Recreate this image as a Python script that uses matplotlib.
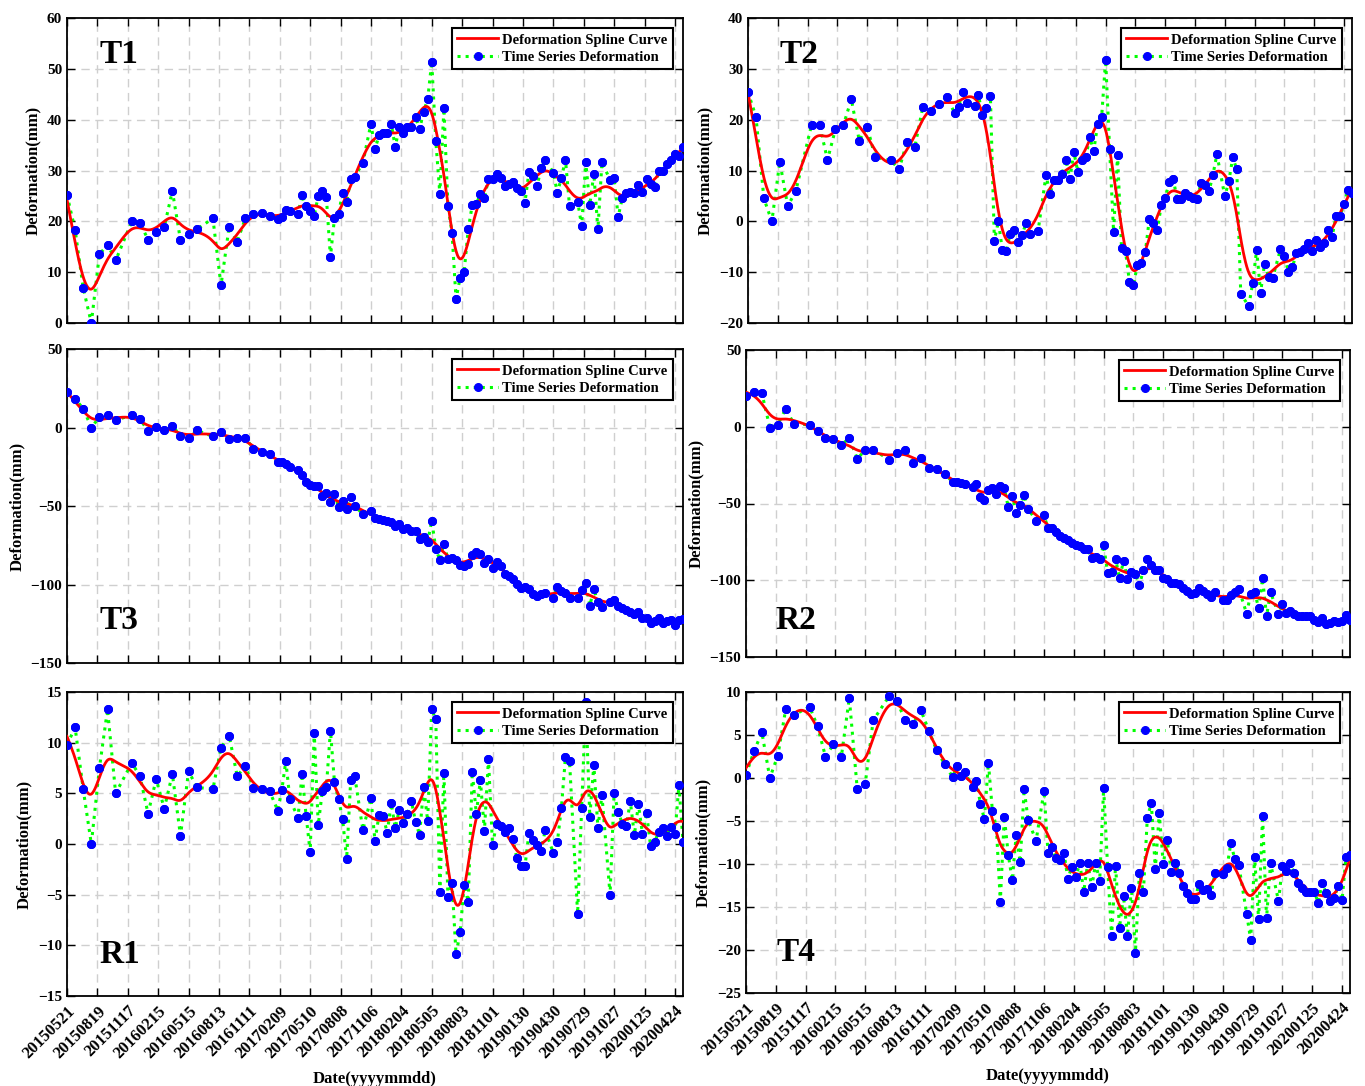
import matplotlib
matplotlib.use("Agg")
import matplotlib.pyplot as plt
import numpy as np
import pandas as pd

plt.rcParams["font.family"] = ["Liberation Serif", "DejaVu Serif"]
plt.rcParams["font.weight"] = "bold"
plt.rcParams["axes.labelweight"] = "bold"

# acquisition dates, as day offsets from the first scene
start_date = "2015-05-21"
day_offsets = [0, 24, 48, 72, 96, 120, 144, 192, 216, 240, 264, 288, 312, 336, 360, 384,
               432, 456, 480, 504, 528, 552, 576, 600, 624, 636, 648, 660,
               684, 696, 708, 720, 732, 744, 756, 768, 780, 792, 804, 816, 828, 840, 852, 876,
               900, 912, 924, 936, 948, 960, 972, 984, 996, 1008, 1020, 1032, 1044, 1056,
               1068, 1080, 1092, 1104, 1116, 1128, 1140, 1152, 1164, 1176, 1188, 1200, 1212,
               1224, 1236, 1248, 1260, 1272, 1284, 1296, 1308, 1320, 1332, 1344, 1356, 1368,
               1380, 1392, 1404, 1416,
               1440, 1452, 1464, 1476, 1488,
               1512, 1524, 1536, 1548, 1560, 1572, 1584,
               1608, 1620, 1632, 1644, 1656, 1668, 1680, 1692, 1704, 1716, 1728, 1740, 1752,
               1764, 1776, 1788, 1800, 1812, 1824]

tick_labels = ["20150521", "20150819", "20151117", "20160215", "20160515", "20160813",
               "20161111", "20170209", "20170510", "20170808", "20171106", "20180204",
               "20180505", "20180803", "20181101", "20190130", "20190430", "20190729",
               "20191027", "20200125", "20200424"]

t1 = [25.2, 18.3, 6.9, 0.0, 13.5, 15.4, 12.3, 20.0, 19.7, 16.4, 17.9, 18.9, 26.0, 16.3, 17.5, 18.4,
      20.6, 7.4, 18.9, 16.0, 20.6, 21.5, 21.7, 21.0, 20.4, 20.9, 22.2, 22.1,
      21.5, 25.2, 23.0, 22.0, 21.1, 25.0, 26.0, 24.7, 13.0, 20.6, 21.5, 25.6, 23.8, 28.3, 28.8, 31.5,
      39.2, 34.2, 36.9, 37.3, 37.4, 39.2, 34.6, 38.6, 37.3, 38.6, 38.5, 40.5, 38.1, 41.6,
      44.0, 51.4, 35.9, 25.4, 42.2, 23.1, 17.8, 4.7, 8.9, 10.1, 18.4, 23.2, 23.4,
      25.4, 24.5, 28.4, 28.4, 29.3, 28.5, 27.0, 27.3, 27.8, 26.5, 25.9, 23.7, 29.8,
      29.0, 27.0, 30.5, 32.1,
      29.6, 25.6, 28.6, 32.1, 23.0,
      23.9, 19.1, 31.7, 23.2, 29.4, 18.4, 31.6,
      28.2, 28.5, 20.9, 24.5, 25.5, 25.8, 25.5, 27.1, 25.7, 28.3, 27.4, 26.8, 30.0,
      29.9, 31.2, 32.1, 33.2, 32.9, 34.7]

t2 = [25.4, 20.6, 4.5, 0.0, 11.7, 3.0, 5.9, 19.0, 19.0, 12.1, 18.1, 18.9, 24.0, 15.9, 18.6, 12.6,
      12.0, 10.2, 15.6, 14.7, 22.5, 21.7, 23.1, 24.5, 21.3, 22.5, 25.5, 23.3,
      22.7, 24.8, 20.9, 22.3, 24.6, -3.8, 0.0, -5.6, -5.8, -2.4, -1.7, -4.1, -2.6, -0.3, -2.4, -1.9,
      9.1, 5.4, 8.1, 8.1, 9.3, 12.1, 8.3, 13.6, 9.8, 12.1, 12.6, 16.5, 13.9, 19.1,
      20.6, 31.8, 14.2, -2.0, 13.0, -5.2, -5.9, -11.9, -12.5, -8.6, -8.2, -6.0, 0.5,
      -0.4, -1.8, 3.2, 4.6, 7.7, 8.4, 4.3, 4.3, 5.6, 5.0, 4.5, 4.3, 7.5,
      7.1, 5.9, 9.1, 13.2,
      4.9, 7.9, 12.6, 10.2, -14.2,
      -16.7, -12.2, -5.6, -14.0, -8.3, -10.9, -11.2,
      -5.5, -6.9, -9.9, -9.0, -6.3, -6.1, -5.5, -4.2, -5.9, -3.6, -5.1, -4.2, -1.8,
      -3.0, 1.1, 1.1, 3.4, 6.2, 5.6]

t3 = [22.3, 18.1, 12.1, 0.0, 6.6, 7.9, 4.7, 7.9, 5.3, -2.1, 0.6, -1.3, 1.1, -5.3, -7.0, -1.7,
      -5.7, -2.8, -7.4, -6.4, -6.4, -13.6, -15.5, -16.6, -21.9, -21.9, -23.2, -25.3,
      -26.8, -30.2, -34.5, -36.8, -37.0, -37.2, -43.8, -41.5, -47.4, -42.6, -50.6, -47.0,
      -51.7, -44.0, -50.0, -55.1,
      -53.4, -57.9, -58.3, -58.7, -59.8, -60.4, -63.0, -61.7, -64.7, -64.3, -66.0, -65.7,
      -71.1, -69.6, -72.8, -59.4, -77.2, -84.5, -74.0, -83.8, -83.4, -84.5, -87.4, -88.1,
      -87.2, -81.3, -79.1, -80.6, -86.2, -83.8, -89.6, -85.5, -88.3, -93.0, -94.7, -96.6,
      -99.8, -102.3, -101.7, -102.6, -106.2, -107.2, -106.2, -105.7,
      -108.3, -101.7, -104.0, -105.7, -108.3,
      -108.3, -103.8, -99.1, -113.4, -103.0, -111.3, -114.5,
      -110.9, -109.6, -113.4, -114.9, -116.4, -117.4, -118.9, -117.4, -121.3, -121.3,
      -124.5, -123.4, -121.1, -124.5, -123.4, -122.3, -126.0, -122.8, -121.9]

r2 = [19.8, 22.9, 21.8, -0.5, 1.4, 11.8, 2.1, 1.2, -2.5, -7.3, -7.7, -11.8, -7.5, -20.7, -15.3, -14.9,
      -21.4, -17.2, -14.9, -23.3, -20.5, -26.8, -27.4, -31.1, -35.7, -35.7, -36.8, -37.6,
      -39.2, -37.2, -45.9, -47.6, -41.5, -40.2, -43.7, -38.7, -39.8, -52.4, -45.2, -55.9,
      -50.7, -44.6, -53.5, -61.1,
      -57.8, -66.1, -66.1, -68.7, -71.3, -72.3, -73.6, -75.8, -77.3, -78.0, -79.5, -79.9,
      -85.4, -84.9, -86.0, -77.1, -95.1, -94.3, -86.0, -98.8, -87.5, -99.0, -94.9, -95.8,
      -103.4, -93.2, -86.4, -90.3, -93.6, -93.4, -98.8, -99.0, -101.6, -101.6, -102.3, -105.1,
      -107.3, -108.8, -108.4, -105.3, -107.1, -108.8, -111.0, -107.7,
      -112.7, -112.7, -109.9, -107.7, -105.5,
      -121.8, -108.8, -107.7, -118.1, -98.8, -123.5, -107.7,
      -122.2, -115.3, -121.1, -120.3, -122.0, -123.5, -123.5, -123.5, -123.5, -126.1,
      -127.2, -124.4, -128.7, -127.7, -126.4, -127.2, -126.6, -122.5, -125.7]

r1 = [9.8, 11.5, 5.4, 0.0, 7.5, 13.3, 5.0, 8.0, 6.7, 3.0, 6.4, 3.5, 6.9, 0.8, 7.2, 5.6,
      5.4, 9.5, 10.7, 6.7, 7.7, 5.5, 5.4, 5.2, 3.3, 5.3, 8.2, 4.4,
      2.6, 6.9, 2.8, -0.8, 11.0, 1.9, 5.2, 5.6, 11.2, 6.1, 4.4, 2.5, -1.5, 6.3, 6.7, 1.4,
      4.5, 0.3, 2.9, 2.8, 1.1, 4.0, 1.6, 3.4, 2.1, 3.0, 4.2, 2.2, 0.9, 5.6,
      2.3, 13.3, 12.3, -4.7, 7.0, -5.2, -3.8, -10.9, -8.7, -4.0, -5.7, 7.1, 3.0,
      6.3, 1.3, 8.4, -0.1, 2.0, 1.8, 1.2, 1.6, 0.5, -1.4, -2.2, -2.2, 1.1,
      0.4, -0.1, -0.7, 1.4,
      -0.9, 0.2, 3.6, 8.6, 8.2,
      -6.9, 3.6, 14.0, 2.7, 7.8, 1.6, 4.8,
      -5.0, 5.0, 3.2, 2.0, 1.8, 4.2, 0.9, 3.9, 1.0, 3.1, -0.2, 0.2, 1.2,
      1.6, 0.8, 1.7, 1.0, 5.8, 0.2]

t4 = [0.4, 3.1, 5.3, 0.0, 2.6, 8.0, 7.3, 8.3, 6.0, 2.5, 3.9, 2.5, 9.3, -1.3, -0.7, 6.7,
      9.5, 8.9, 6.8, 6.3, 7.9, 5.5, 3.2, 1.6, 0.1, 1.4, 0.2, 0.7,
      -1.0, -0.4, -3.0, -4.8, 1.8, -3.8, -5.7, -14.4, -4.5, -8.9, -11.9, -6.6, -9.8, -1.3, -4.9, -7.3,
      -1.5, -8.7, -8.0, -9.3, -9.5, -8.7, -11.7, -10.3, -11.5, -9.9, -13.2, -9.9, -12.7, -9.9,
      -12.0, -1.2, -10.3, -18.4, -10.2, -17.4, -13.7, -18.4, -12.8, -20.3, -11.0, -13.3, -4.6,
      -2.9, -10.6, -4.1, -10.0, -7.2, -10.9, -9.9, -11.0, -12.6, -13.4, -14.1, -14.1, -12.3,
      -13.0, -12.9, -13.6, -11.1,
      -11.2, -10.5, -7.6, -9.4, -10.1,
      -15.8, -18.8, -9.2, -16.4, -4.4, -16.3, -9.9,
      -14.3, -10.2, -10.8, -9.9, -11.1, -12.2, -12.8, -13.2, -13.2, -13.2, -14.5, -12.2, -13.4,
      -14.3, -13.9, -12.6, -14.2, -9.2, -8.9]

W, H = 1365, 1086
STEP = 2  # grid step (days) for the smoothing spline


def spline_curve(days, values, lam=1500.0):
    # penalised (Whittaker) smoothing, same idea as a cubic smoothing spline
    days = np.asarray(days)
    grid = np.arange(days[0], days[-1] + 1, STEP)
    n = len(grid)
    w = np.zeros(n)
    y = np.zeros(n)
    idx = (days - days[0]) // STEP
    w[idx] = 1.0
    y[idx] = values
    D = np.diff(np.eye(n), 2, axis=0)
    A = np.diag(w) + lam * D.T @ D
    return grid, np.linalg.solve(A, w * y)


def px_axes(fig, x0, y0, x1, y1):
    return fig.add_axes([x0 / W, 1 - y1 / H, (x1 - x0) / W, (y1 - y0) / H])


start = pd.Timestamp(start_date)
dates = start + pd.to_timedelta(day_offsets, unit="D")
tick_dates = pd.to_datetime(tick_labels, format="%Y%m%d")

panels = [
    ("T1", t1, (0, 60), np.arange(0, 61, 10), (67, 18, 683, 323), (0.052, 0.88), False),
    ("T2", t2, (-20, 40), np.arange(-20, 41, 10), (748, 18, 1352, 323), (0.052, 0.88), False),
    ("T3", t3, (-150, 50), np.arange(-150, 51, 50), (67, 349, 683, 663), (0.052, 0.135), False),
    ("R2", r2, (-150, 50), np.arange(-150, 51, 50), (746, 350, 1350, 657), (0.048, 0.12), False),
    ("R1", r1, (-15, 15), np.arange(-15, 16, 5), (67, 692, 683, 996), (0.052, 0.135), True),
    ("T4", t4, (-25, 10), np.arange(-25, 11, 5), (746, 692, 1350, 993), (0.05, 0.135), True),
]

fig = plt.figure(figsize=(W / 100, H / 100), dpi=100)

for name, vals, ylim, yticks, rect, lab, bottom in panels:
    ax = px_axes(fig, *rect)
    grid, smooth = spline_curve(day_offsets, vals)
    gdates = start + pd.to_timedelta(grid, unit="D")

    ts, = ax.plot(dates, vals, ":", color="#00ff00", lw=2.2, marker="o", ms=5.5,
                  mfc="#0000ff", mec="#0000ff", zorder=2, label="Time Series Deformation")
    sp, = ax.plot(gdates, smooth, "-", color="#ff0000", lw=2.0, zorder=3,
                  label="Deformation Spline Curve")
    ax.plot(dates, vals, "o", ms=5.5, mfc="#0000ff", mec="#0000ff", zorder=4)

    ax.set_xlim(dates[0], dates[-1])
    ax.set_ylim(*ylim)
    ax.set_yticks(yticks)
    ax.set_xticks(tick_dates)
    if bottom:
        ax.set_xticklabels(tick_labels, rotation=45, ha="right", rotation_mode="anchor",
                           fontsize=12)
        ax.set_xlabel("Date(yyyymmdd)", fontsize=12, labelpad=7)
    else:
        ax.set_xticklabels([])
    ax.set_ylabel("Deformation(mm)", fontsize=12)

    ax.tick_params(direction="in", length=6, width=1, top=True, right=True)
    ax.tick_params(axis="y", labelsize=11)
    ax.tick_params(axis="x", pad=5)
    ax.grid(True, ls=(0, (6, 4)), color="#cfcfcf", lw=1)
    ax.set_axisbelow(True)
    for s in ax.spines.values():
        s.set_linewidth(1.3)

    ax.text(lab[0], lab[1], name, transform=ax.transAxes, fontsize=24,
            fontweight="bold", ha="left", va="center")

    leg = ax.legend(handles=[sp, ts], loc="upper right", fontsize=10.5, fancybox=False,
                    framealpha=1, edgecolor="black", handlelength=2.8, labelspacing=0.3,
                    borderpad=0.35, borderaxespad=0.7, handletextpad=0.3, numpoints=1)
    leg.get_frame().set_linewidth(1.5)

fig.savefig("out.png", dpi=100)
